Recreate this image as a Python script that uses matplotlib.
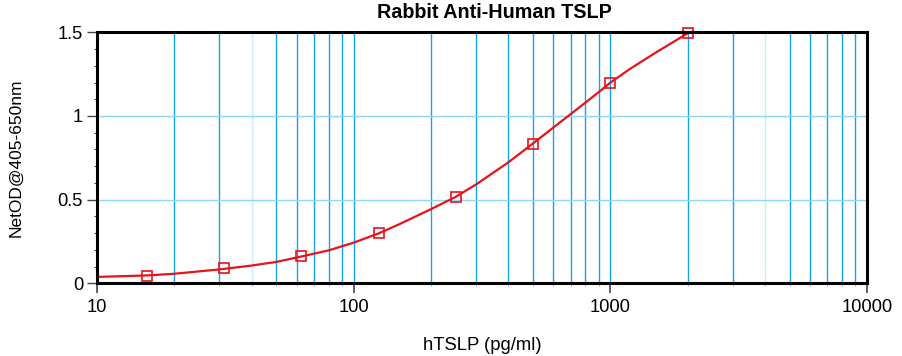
import matplotlib
matplotlib.use("Agg")
import matplotlib.pyplot as plt
from matplotlib.ticker import FixedLocator, NullFormatter, FixedFormatter

plt.rcParams['font.family'] = ['Liberation Sans', 'DejaVu Sans']

# Standard points
conc = [15.625, 31.25, 62.5, 125, 250, 500, 1000, 2000]
od = [0.044, 0.090, 0.163, 0.302, 0.516, 0.835, 1.199, 1.495]

# Fitted curve
curve_x = [10, 15.625, 20, 30, 40, 50, 62.5, 80, 100, 125, 150, 200, 250,
           300, 400, 500, 600, 700, 800, 900, 1000, 1200, 1500, 2000]
curve_y = [0.038, 0.047, 0.057, 0.083, 0.106, 0.128, 0.160, 0.197, 0.243,
           0.298, 0.352, 0.443, 0.517, 0.591, 0.722, 0.836, 0.931, 1.011,
           1.080, 1.142, 1.199, 1.284, 1.378, 1.494]

major_x = [10, 100, 1000, 10000]
major_x_labels = ["10", "100", "1000", "10000"]
minor_x = [20, 30, 40, 50, 60, 70, 80, 90,
           200, 300, 400, 500, 600, 700, 800, 900,
           2000, 3000, 4000, 5000, 6000, 7000, 8000, 9000]
light_x = [40, 4000]
major_y = [0, 0.5, 1, 1.5]
major_y_labels = ["0", "0.5", "1", "1.5"]
minor_y = [0.1, 0.2, 0.3, 0.4, 0.6, 0.7, 0.8, 0.9, 1.1, 1.2, 1.3, 1.4]
hgrid_y = [0.5, 1.0]

fig = plt.figure(figsize=(9.02, 3.56), dpi=100)
ax = fig.add_axes([97/902, 1-283.3/356, (867-97)/902, (283.3-32.3)/356])
ax.set_xscale('log')
ax.set_xlim(10, 10000)
ax.set_ylim(0, 1.5)

# grid lines
for v in minor_x + [100, 1000]:
    c = '#c8ecfb' if v in light_x else '#12a6e4'
    ax.axvline(v, color=c, lw=1.0, zorder=1)
for h in hgrid_y:
    ax.axhline(h, color='#8fd6f6', lw=1.0, zorder=1)

ax.plot(curve_x, curve_y, color='#e8121c', lw=1.6, zorder=3,
        solid_joinstyle='round', solid_capstyle='round')
ax.plot(conc, od, linestyle='none', marker='s', markersize=7.5,
        markerfacecolor='none', markeredgecolor='#e8121c', markeredgewidth=1.2,
        zorder=4, clip_on=False)

for s in ax.spines.values():
    s.set_linewidth(2.2)
    s.set_color('black')
    s.set_zorder(5)

ax.xaxis.set_major_locator(FixedLocator(major_x))
ax.xaxis.set_major_formatter(FixedFormatter(major_x_labels))
ax.xaxis.set_minor_locator(FixedLocator(minor_x))
ax.xaxis.set_minor_formatter(NullFormatter())
ax.yaxis.set_major_locator(FixedLocator(major_y))
ax.yaxis.set_major_formatter(FixedFormatter(major_y_labels))
ax.yaxis.set_minor_locator(FixedLocator(minor_y))

ax.tick_params(axis='x', which='major', length=7, width=1.2, color='#444444',
               labelsize=13.2, pad=4)
ax.tick_params(axis='x', which='minor', length=2.5, width=0.8, color='#aaaaaa')
ax.tick_params(axis='y', which='major', length=7, width=1.0, color='#444444',
               labelsize=13.2, pad=3)
ax.tick_params(axis='y', which='minor', length=2.5, width=0.8, color='#444444')

fig.text(494/902, 1-12.5/356, "Rabbit Anti-Human TSLP", fontsize=14.2,
         fontweight='bold', ha='center', va='center')

ax.set_xlabel("hTSLP (pg/ml)", fontsize=13.3)
ax.xaxis.set_label_coords(0.5, (283.3-345)/251)
ax.xaxis.label.set_va('center')

ax.set_ylabel("NetOD@405-650nm", fontsize=12.5)
ax.yaxis.set_label_coords((16-97)/770, (283.3-158)/251)
ax.yaxis.label.set_va('center')
ax.yaxis.label.set_ha('center')

fig.savefig("out.png", dpi=100)
